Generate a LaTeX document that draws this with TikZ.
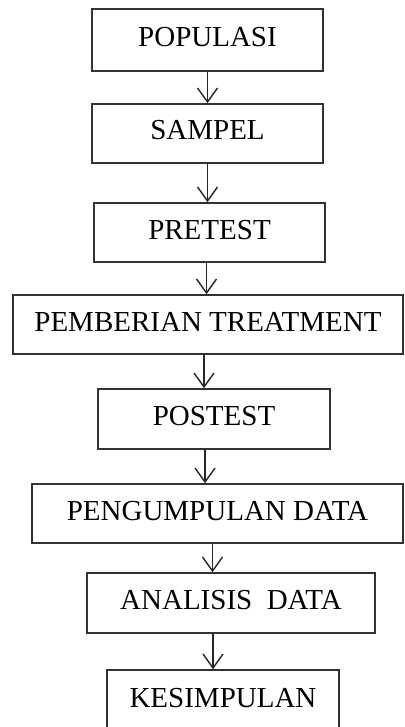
\documentclass[tikz,border=0pt]{standalone}
\usepackage{fontspec}
\setmainfont{Liberation Serif}
\usetikzlibrary{arrows.meta}

\tikzset{
  flowbox/.style={draw=black!80, line width=1.6pt, inner sep=0pt,
    minimum height=59pt, text height=19pt, text depth=6pt,
    font=\fontsize{29}{34}\selectfont},
  flowarrow/.style={draw=black!85, line width=1.4pt,
    -{Straight Barb[length=14pt,width=20pt,line width=1.4pt]}}
}

\begin{document}
\begin{tikzpicture}[x=1pt, y=-1pt]

\clip (0, 0) rectangle (404, 727);

\node[flowbox, minimum width=231pt, minimum height=62pt] (pop) at (207.5, 40) {POPULASI};
\node[flowbox, minimum width=231pt] (sam) at (207.5, 133.5) {SAMPEL};
\node[flowbox, minimum width=231pt] (pre) at (209.5, 232.5) {PRETEST};
\node[flowbox, minimum width=390pt] (pem) at (208, 324.5) {PEMBERIAN TREATMENT};
\node[flowbox, minimum width=232pt, minimum height=60pt] (pos) at (214, 419) {POSTEST};
\node[flowbox, minimum width=371pt] (peng) at (217.5, 513.5) {PENGUMPULAN DATA};
\node[flowbox, minimum width=288pt, minimum height=60pt] (ana) at (231, 603) {ANALISIS\ \ DATA};
\node[flowbox, minimum width=232pt, minimum height=62pt] (kes) at (223, 701) {KESIMPULAN};


\draw[flowarrow] (pop.south) to (pop.south |- sam.north);
\draw[flowarrow] (sam.south) to (sam.south |- pre.north);
\draw[flowarrow] ([xshift=-3pt]pre.south) to ([xshift=-3pt]pre.south |- pem.north);
\draw[flowarrow] ([xshift=-4pt]pem.south) to ([xshift=-4pt]pem.south |- pos.north);
\draw[flowarrow] ([xshift=-9pt]pos.south) to ([xshift=-9pt]pos.south |- peng.north);
\draw[flowarrow] ([xshift=-5pt]peng.south) to ([xshift=-5pt]peng.south |- ana.north);
\draw[flowarrow] ([xshift=-18pt]ana.south) to ([xshift=-18pt]ana.south |- kes.north);

\end{tikzpicture}
\end{document}
